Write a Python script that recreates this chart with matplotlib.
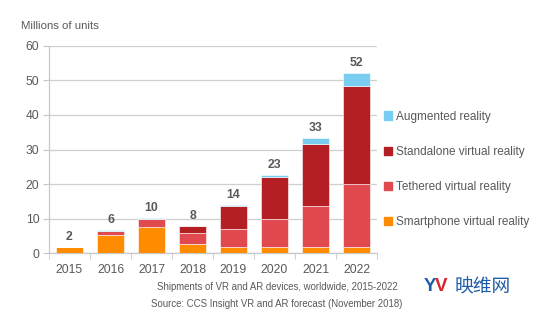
import numpy as np
import matplotlib
matplotlib.use("Agg")
import matplotlib.pyplot as plt
from matplotlib.patches import Patch

# Datos (millones de unidades)
years = ["2015", "2016", "2017", "2018", "2019", "2020", "2021", "2022"]
smartphone = [1.6, 5.2, 7.6, 2.6, 1.7, 1.8, 1.8, 1.8]
tethered = [0.0, 1.2, 2.4, 3.3, 5.4, 8.2, 11.8, 18.1]
standalone = [0.0, 0.0, 0.0, 1.8, 6.5, 11.9, 18.0, 28.6]
augmented = [0.1, 0.2, 0.1, 0.2, 0.3, 0.7, 1.8, 3.6]
totals = ["2", "6", "10", "8", "14", "23", "33", "52"]

series = ["Smartphone virtual reality", "Tethered virtual reality",
          "Standalone virtual reality", "Augmented reality"]
colors = ["#FF8C00", "#E0494E", "#B41F24", "#78CDF1"]

plt.rcParams['font.family'] = ['Liberation Sans', 'DejaVu Sans']
grey = "#595959"

fig = plt.figure(figsize=(5.53, 3.23), dpi=100)
ax = fig.add_axes([0.0886, 0.2167, 0.5932, 0.6409])

x = np.arange(len(years))
bottom = np.zeros(len(years))
for vals, col in zip([smartphone, tethered, standalone, augmented], colors):
    ax.bar(x, vals, width=0.66, bottom=bottom, color=col,
           edgecolor="white", linewidth=0.4, zorder=3)
    bottom += np.array(vals)

for xi, top, lab in zip(x, bottom, totals):
    ax.annotate(lab, (xi, top), xytext=(0, 3), textcoords="offset points",
                ha="center", va="bottom", fontsize=8.8, fontweight="bold",
                color=grey)

ax.set_xlim(-0.48, 7.5)
ax.set_ylim(0, 60)
ax.set_yticks(range(0, 61, 10))
ax.set_xticks(x)
ax.set_xticklabels(years)
ax.set_xticks(np.arange(-0.5, 7.6, 1), minor=True)
ax.tick_params(axis="x", which="major", length=0, pad=8, labelsize=8.7,
               labelcolor=grey)
ax.tick_params(axis="x", which="minor", length=4, color="#C8C8C8")
ax.tick_params(axis="y", length=4, color="#C8C8C8", labelsize=8.7,
               labelcolor=grey, pad=3)
ax.grid(axis="y", color="#CFCFCF", linewidth=0.9, zorder=0)
for s in ["top", "right"]:
    ax.spines[s].set_visible(False)
for s in ["left", "bottom"]:
    ax.spines[s].set_color("#C8C8C8")
    ax.spines[s].set_linewidth(0.9)

handles = [Patch(color=c, label=l) for c, l in zip(colors, series)][::-1]
fig.legend(handles=handles, loc="upper left", bbox_to_anchor=(0.675, 0.69),
           frameon=False, fontsize=8.5, handlelength=0.7, handleheight=0.7,
           handletextpad=0.3, labelspacing=1.95, labelcolor=grey)

fig.text(0.038, 0.92, "Millions of units", fontsize=8.2, color=grey,
         va="center", ha="left")
fig.text(0.501, 0.112, "Shipments of VR and AR devices, worldwide, 2015-2022",
         fontsize=6.9, color=grey, ha="center", va="center")
fig.text(0.501, 0.058, "Source: CCS Insight VR and AR forecast (November 2018)",
         fontsize=6.9, color=grey, ha="center", va="center")

# marca de agua
fig.text(0.766, 0.112, "Y", fontsize=13.5, fontweight="bold", color="#1E5BA8",
         ha="left", va="center")
fig.text(0.786, 0.112, "V", fontsize=13.5, fontweight="bold", color="#D7262B",
         ha="left", va="center")
fig.text(0.822, 0.112, "映维网", fontsize=13.5, color="#1E5BA8", ha="left",
         va="center", family=["Noto Sans CJK SC", "DejaVu Sans"])

fig.savefig("out.png", dpi=100)
